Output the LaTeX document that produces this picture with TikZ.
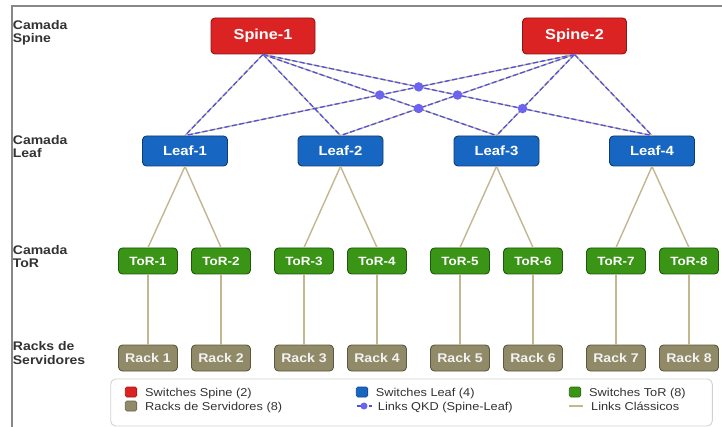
\documentclass[tikz,border=0pt]{standalone}
\usepackage{fontspec}
\setmainfont{Liberation Sans}[FakeStretch=1.12]
\definecolor{spinefill}{HTML}{DC2323}
\definecolor{spinedraw}{HTML}{8E1515}
\definecolor{leaffill}{HTML}{1767C2}
\definecolor{leafdraw}{HTML}{0C3C72}
\definecolor{torfill}{HTML}{3A9416}
\definecolor{tordraw}{HTML}{1F5A0A}
\definecolor{rackfill}{HTML}{918A68}
\definecolor{rackdraw}{HTML}{5C573F}
\definecolor{tanlink}{HTML}{C2B791}
\definecolor{qkdblue}{HTML}{5050E6}
\definecolor{qkddot}{HTML}{6C64EE}
\definecolor{labeltext}{HTML}{333333}
\definecolor{framegray}{HTML}{888888}
\definecolor{legendgray}{HTML}{D2D2D2}
\tikzset{
  devbox/.style={rounded corners=4pt, draw, line width=0.9pt, text=white, inner sep=0pt, align=center},
  spinebox/.style={devbox, fill=spinefill, draw=spinedraw, minimum width=104pt, minimum height=36pt, font=\fontsize{14.5}{16}\selectfont\bfseries},
  leafbox/.style={devbox, fill=leaffill, draw=leafdraw, minimum width=85pt, minimum height=30pt, font=\fontsize{13.3}{15}\selectfont\bfseries},
  torbox/.style={devbox, fill=torfill, draw=tordraw, minimum width=59pt, minimum height=26pt, font=\fontsize{12}{14}\selectfont\bfseries},
  rackbox/.style={devbox, fill=rackfill, draw=rackdraw, text=white!95!black, minimum width=59pt, minimum height=26pt, font=\fontsize{12.6}{14}\selectfont\bfseries},
  layerlabel/.style={anchor=west, align=left, inner sep=0pt, text=labeltext, font=\fontsize{12.5}{13.4}\selectfont\bfseries},
  classic/.style={draw=tanlink, line width=1.4pt},
  qkdunder/.style={draw=tanlink, line width=1.3pt},
  qkdover/.style={draw=qkdblue, line width=1.3pt, dash pattern=on 5pt off 2.5pt},
  qkdpoint/.style={circle, fill=qkddot, inner sep=0pt, minimum size=9.5pt},
  legendbox/.style={draw=legendgray, fill=white, line width=0.9pt, rounded corners=5pt},
  legendtext/.style={anchor=base west, inner sep=0pt, text=labeltext, font=\fontsize{11.4}{13}\selectfont},
  legendsq/.style={rounded corners=1.5pt, inner sep=0pt, minimum width=11.5pt, minimum height=10pt, draw=#1!70!black, fill=#1, line width=0.6pt}
}
\begin{document}
\begin{tikzpicture}[x=1pt,y=-1pt]
\useasboundingbox (0,0) rectangle (722,427);
\fill[white] (0,0) rectangle (722,427);
% frame
\draw[framegray, line width=1.5pt] (12,427) -- (12,6) -- (722,6);

% layer labels
\node[layerlabel] (lbspine) at (12.7,32.5) {Camada\\Spine};
\node[layerlabel] (lbleaf) at (12.7,146.5) {Camada\\Leaf};
\node[layerlabel] (lbtor) at (12.7,256.5) {Camada\\ToR};
\node[layerlabel] (lbrack) at (12.7,353) {Racks de\\Servidores};

% devices
\node[spinebox] (s1) at (263,36) {Spine-1};
\node[spinebox] (s2) at (574.5,36) {Spine-2};
\node[leafbox] (l1) at (185,151) {Leaf-1};
\node[leafbox] (l2) at (340.5,151) {Leaf-2};
\node[leafbox] (l3) at (496.5,151) {Leaf-3};
\node[leafbox] (l4) at (652,151) {Leaf-4};
\foreach \i/\x in {1/148,2/221,3/304,4/377,5/460,6/533,7/616,8/689}{
  \node[torbox] (t\i) at (\x,261) {ToR-\i};
  \node[rackbox] (r\i) at (\x,358) {Rack \i};
}

% spine-leaf QKD links
\foreach \s in {s1,s2}{
  \foreach \l in {l1,l2,l3,l4}{
    \draw[qkdunder] (\s.south) -- (\l.north);
    \draw[qkdover] (\s.south) -- (\l.north);
  }
}
% QKD crossing points
\node[qkdpoint] (q1) at (intersection of s1.south--l3.north and s2.south--l1.north) {};
\node[qkdpoint] (q2) at (intersection of s1.south--l4.north and s2.south--l1.north) {};
\node[qkdpoint] (q3) at (intersection of s1.south--l4.north and s2.south--l2.north) {};
\node[qkdpoint] (q4) at (intersection of s1.south--l3.north and s2.south--l2.north) {};
\node[qkdpoint] (q5) at (intersection of s1.south--l4.north and s2.south--l3.north) {};

% leaf-tor links
\draw[classic] (l1.south) -- (t1.north);
\draw[classic] (l1.south) -- (t2.north);
\draw[classic] (l2.south) -- (t3.north);
\draw[classic] (l2.south) -- (t4.north);
\draw[classic] (l3.south) -- (t5.north);
\draw[classic] (l3.south) -- (t6.north);
\draw[classic] (l4.south) -- (t7.north);
\draw[classic] (l4.south) -- (t8.north);
% tor-rack links
\foreach \i in {1,...,8}{
  \draw[classic] (t\i.south) -- (r\i.north);
}

% legend
\draw[legendbox] (110.7,379) rectangle (712.3,426);
\node[legendsq=spinefill] (lg1) at (131,392) {};
\node[legendtext] (lt1) at (145,396) {Switches Spine (2)};
\node[legendsq=rackfill] (lg2) at (131,406) {};
\node[legendtext] (lt2) at (145,410.3) {Racks de Servidores (8)};
\node[legendsq=leaffill] (lg3) at (362,392) {};
\node[legendtext] (lt3) at (375.7,396) {Switches Leaf (4)};
\coordinate (qa) at (357,406);
\coordinate (qb) at (372,406);
\draw[qkdblue, line width=1.3pt, dash pattern=on 4pt off 2pt] (qa) -- (qb);
\node[qkdpoint, minimum size=7pt] (qd) at (364,406) {};
\node[legendtext] (lt4) at (377.7,410.3) {Links QKD (Spine-Leaf)};
\node[legendsq=torfill] (lg5) at (575,392) {};
\node[legendtext] (lt5) at (589,396) {Switches ToR (8)};
\coordinate (ca) at (569.3,406);
\coordinate (cb) at (583.3,406);
\draw[classic] (ca) -- (cb);
\node[legendtext] (lt6) at (591,410.3) {Links Clássicos};
\end{tikzpicture}
\end{document}
